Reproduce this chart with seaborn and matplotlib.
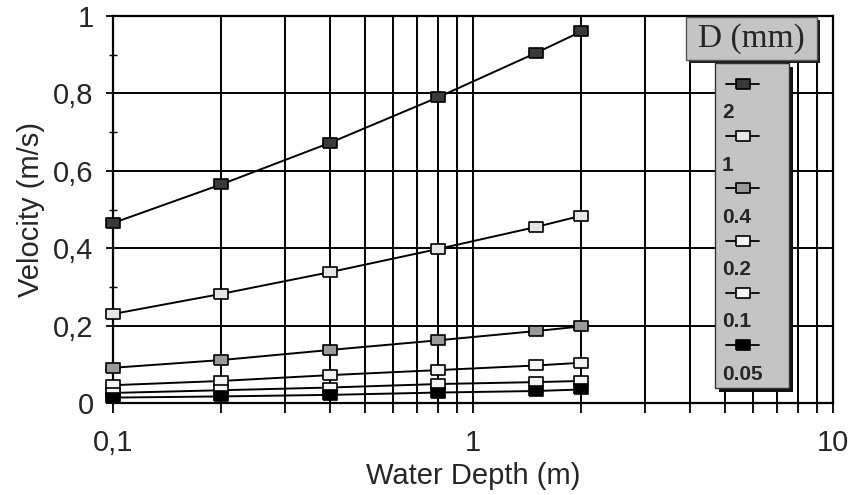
import matplotlib
matplotlib.use("Agg")
import numpy as np
import pandas as pd
import seaborn as sns
import matplotlib.pyplot as plt
from matplotlib.patches import Rectangle
from matplotlib.lines import Line2D
from matplotlib.ticker import FixedLocator, FixedFormatter, LogLocator, NullFormatter

# ---------------- data ----------------
depth = [0.1, 0.2, 0.4, 0.8, 1.5, 2.0]
grain_sizes = ["2", "1", "0.4", "0.2", "0.1", "0.05"]
v_d2 = [0.465, 0.565, 0.672, 0.790, 0.905, 0.960]
v_d1 = [0.230, 0.282, 0.338, 0.398, 0.455, 0.484]
v_d04 = [0.091, 0.111, 0.137, 0.162, 0.186, 0.198]
v_d02 = [0.046, 0.057, 0.072, 0.085, 0.097, 0.104]
v_d01 = [0.026, 0.033, 0.040, 0.049, 0.054, 0.057]
v_d005 = [0.014, 0.017, 0.021, 0.027, 0.031, 0.035]

xtick_vals = [0.1, 1, 10]
xtick_labels = ["0,1", "1", "10"]
ytick_vals = [0, 0.2, 0.4, 0.6, 0.8, 1.0]
ytick_labels = ["0", "0,2", "0,4", "0,6", "0,8", "1"]

series = [v_d2, v_d1, v_d04, v_d02, v_d01, v_d005]
df = pd.DataFrame({
    "depth": np.tile(depth, len(grain_sizes)),
    "velocity": np.concatenate(series),
    "D": np.repeat(grain_sizes, len(depth)),
})

# marker face colours (style)
face = {"2": "#3a3a3a", "1": "#e6e6e6", "0.4": "#9a9a9a",
        "0.2": "#f4f4f4", "0.1": "#f4f4f4", "0.05": "#000000"}
rect_marker = [(-1.35, -1), (1.35, -1), (1.35, 1), (-1.35, 1), (-1.35, -1)]
msize = 9.5

sns.set_style("white")
plt.rcParams["font.family"] = ["Liberation Sans", "DejaVu Sans"]

fig = plt.figure(figsize=(8.5, 4.95), dpi=100)
ax = fig.add_axes([113 / 850, 1 - 403 / 495, 720 / 850, 387 / 495])

for d in grain_sizes:
    sub = df[df["D"] == d]
    sns.lineplot(data=sub, x="depth", y="velocity", ax=ax, color="black",
                 linewidth=1.4, marker=rect_marker, markersize=msize,
                 markerfacecolor=face[d], markeredgecolor="black",
                 markeredgewidth=1.2, clip_on=False, zorder=5, legend=False)

ax.set_xscale("log")
ax.set_xlim(0.1, 10)
ax.set_ylim(0, 1)

ax.xaxis.set_major_locator(FixedLocator(xtick_vals))
ax.xaxis.set_major_formatter(FixedFormatter(xtick_labels))
ax.xaxis.set_minor_locator(LogLocator(base=10, subs=np.arange(2, 10)))
ax.xaxis.set_minor_formatter(NullFormatter())
ax.yaxis.set_major_locator(FixedLocator(ytick_vals))
ax.yaxis.set_major_formatter(FixedFormatter(ytick_labels))
ax.yaxis.set_minor_locator(FixedLocator([0.1, 0.3, 0.5, 0.7, 0.9]))

ax.grid(True, which="major", axis="both", color="black", linewidth=1.4)
ax.grid(True, which="minor", axis="x", color="black", linewidth=1.4)
ax.set_axisbelow(True)
for s in ax.spines.values():
    s.set_color("black")
    s.set_linewidth(1.6)

ax.tick_params(axis="x", which="both", direction="out", length=7, width=1.3,
               color="black", bottom=True, labelsize=21, pad=12)
ax.tick_params(axis="y", which="major", direction="out", length=5, width=1.3,
               color="black", left=True, labelsize=21, pad=9)
ax.tick_params(axis="y", which="minor", direction="inout", length=6, width=1.0,
               color="black", left=True)

ax.set_xlabel("Water Depth (m)", fontsize=21, labelpad=3)
ax.set_ylabel("Velocity (m/s)", fontsize=21, labelpad=6)

# ---------------- legend (decoration) ----------------
def fx(px):
    return px / 850

def fy(py):
    return 1 - py / 495

# title box
fig.add_artist(Rectangle((fx(689), fy(63)), fx(131), 43 / 495,
                         transform=fig.transFigure, facecolor="#1a1a1a",
                         edgecolor="none", zorder=10))
fig.add_artist(Rectangle((fx(686), fy(60)), fx(131), 43 / 495,
                         transform=fig.transFigure, facecolor="#c4c4c4",
                         edgecolor="#555555", linewidth=1, zorder=11))
fig.text(fx(751), fy(39), "D (mm)", ha="center", va="center",
         fontsize=24, family=["Liberation Serif", "DejaVu Serif"], zorder=12)

# entries box
fig.add_artist(Rectangle((fx(719), fy(392)), fx(74), 325 / 495,
                         transform=fig.transFigure, facecolor="#111111",
                         edgecolor="none", zorder=10))
fig.add_artist(Rectangle((fx(715), fy(388)), fx(74), 325 / 495,
                         transform=fig.transFigure, facecolor="#c4c4c4",
                         edgecolor="#333333", linewidth=1, zorder=11))
for i, d in enumerate(grain_sizes):
    ym = 84 + i * 52.2
    fig.add_artist(Line2D([fx(726), fx(759)], [fy(ym), fy(ym)],
                          transform=fig.transFigure, color="black", linewidth=1.3,
                          zorder=12))
    fig.add_artist(Line2D([fx(742.5)], [fy(ym)], transform=fig.transFigure,
                          marker=rect_marker, markersize=msize, color="black",
                          markerfacecolor=face[d], markeredgecolor="black",
                          markeredgewidth=1.2, linestyle="none", zorder=13))
    fig.text(fx(722), fy(ym + 29), d, ha="left", va="center",
             fontsize=15, fontweight="bold", zorder=12)

fig.savefig("out.png", dpi=100)
